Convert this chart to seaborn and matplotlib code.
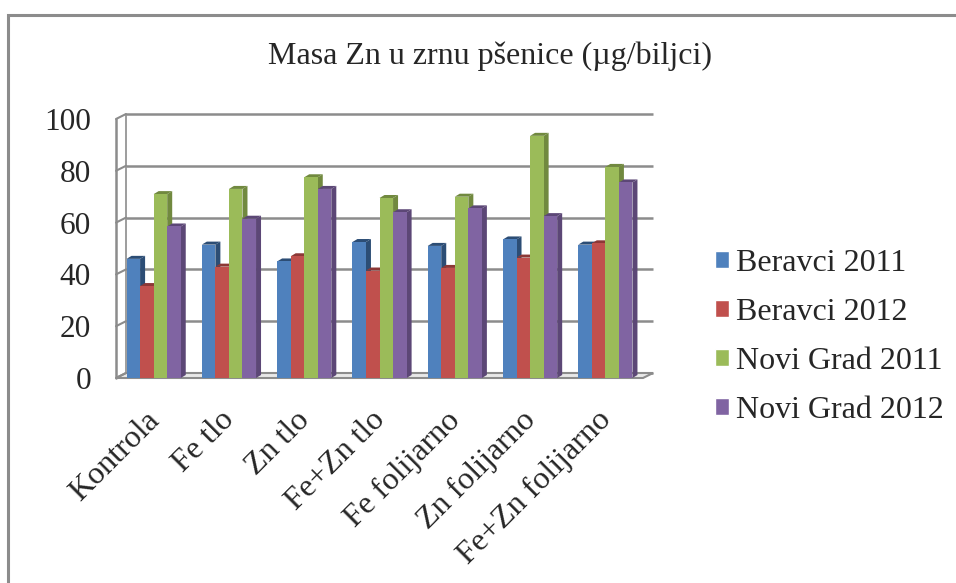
import numpy as np
import pandas as pd
import matplotlib
matplotlib.use("Agg")
import matplotlib.pyplot as plt
import matplotlib.transforms as mtransforms
from matplotlib.patches import Polygon, Rectangle
import seaborn as sns

# data
categories = ['Kontrola', 'Fe tlo', 'Zn tlo', 'Fe+Zn tlo', 'Fe folijarno', 'Zn folijarno', 'Fe+Zn folijarno']
series = ['Beravci 2011', 'Beravci 2012', 'Novi Grad 2011', 'Novi Grad 2012']
beravci_2011 = [46, 51.5, 45, 52.5, 51, 53.5, 51.5]
beravci_2012 = [35.5, 43, 47, 41.5, 42.5, 46.5, 52]
novi_grad_2011 = [71, 73, 77.5, 69.5, 70, 93.5, 81.5]
novi_grad_2012 = [58.5, 61.5, 73, 64, 65.5, 62.5, 75.5]
yticks = [0, 20, 40, 60, 80, 100]

colors = ['#4F81BD', '#C0504D', '#9BBB59', '#8064A2']
dark = ['#2C4D75', '#8C3836', '#71893F', '#5C4776']

df = pd.DataFrame({
    'kategorija': categories * 4,
    'serija': np.repeat(series, len(categories)),
    'vrijednost': beravci_2011 + beravci_2012 + novi_grad_2011 + novi_grad_2012,
})

sns.set_style('white')
plt.rcParams['font.family'] = ['Liberation Serif', 'DejaVu Serif']

W, H, DPI = 956, 583, 100
fig = plt.figure(figsize=(W / DPI, H / DPI), dpi=DPI)
ax_l, ax_r, ax_t, ax_b = 116, 643, 119, 378
ax = fig.add_axes([ax_l / W, 1 - ax_b / H, (ax_r - ax_l) / W, (ax_b - ax_t) / H])

# outer chart frame
fig.patches.append(Rectangle((8 / W, -0.1), 1.0, 1 - 15 / H + 0.1, transform=fig.transFigure,
                             fill=False, edgecolor='#8C8C8C', linewidth=2.2, clip_on=False))

sns.barplot(data=df, x='kategorija', y='vrijednost', hue='serija', palette=colors,
            width=0.72, gap=0, saturation=1, ax=ax, legend=False, errorbar=None, linewidth=0)
ax.set_xlim(-0.5, len(categories) - 0.5)
ax.set_ylim(0, 100)

# 3D look: back wall offset
depth_x, depth_y = 10, 5
off = mtransforms.ScaledTranslation(depth_x / DPI, depth_y / DPI, fig.dpi_scale_trans)
ax.hlines(yticks, -0.5, len(categories) - 0.5, colors='#8C8C8C', linewidth=1.8,
          transform=ax.transData + off, zorder=0, clip_on=False)
px_x = (ax_r - ax_l) / len(categories)
px_y = (ax_b - ax_t) / 100
dxd, dyd = depth_x / px_x, depth_y / px_y
# left wall ticks and floor
for y in yticks:
    ax.plot([-0.5, -0.5 + dxd], [y, y + dyd], color='#8C8C8C', lw=1.5, clip_on=False, zorder=1)
ax.plot([-0.5, -0.5], [0, 100], color='#8C8C8C', lw=1.8, clip_on=False)
ax.plot([-0.5 + dxd, -0.5 + dxd], [dyd, 100 + dyd], color='#8C8C8C', lw=1.2, clip_on=False, zorder=0)
floor = Polygon([[-0.5, 0], [len(categories) - 0.5, 0],
                 [len(categories) - 0.5 + dxd, dyd], [-0.5 + dxd, dyd]],
                closed=True, facecolor='#E8E8E8', edgecolor='#8C8C8C', lw=1.5, clip_on=False, zorder=0.5)
ax.add_patch(floor)

# side and top faces of the bars
sx, sy = 5 / px_x, 3 / px_y
for i, patch in enumerate(ax.patches[:len(categories) * len(series)]):
    s = i // len(categories)
    x0, w, h = patch.get_x(), patch.get_width(), patch.get_height()
    patch.set_zorder(3)
    side = Polygon([[x0 + w, 0], [x0 + w + sx, sy], [x0 + w + sx, h + sy], [x0 + w, h]],
                   closed=True, facecolor=dark[s], edgecolor='none', clip_on=False, zorder=2.9)
    top = Polygon([[x0, h], [x0 + w, h], [x0 + w + sx, h + sy], [x0 + sx, h + sy]],
                  closed=True, facecolor=dark[s], edgecolor='none', clip_on=False, zorder=2.9)
    ax.add_patch(side)
    ax.add_patch(top)

sns.despine(ax=ax, left=True, bottom=True)
ax.set_yticks(yticks)
ax.set_yticklabels([str(v) for v in yticks], fontsize=22.5)
ax.tick_params(axis='y', length=0, pad=18)
ax.tick_params(axis='x', length=0, pad=20)
ax.set_xticks(range(len(categories)))
ax.set_xticklabels(categories, fontsize=23, rotation=45, ha='right', rotation_mode='anchor')
shift = mtransforms.ScaledTranslation(-9 / DPI, 0, fig.dpi_scale_trans)
for lab in ax.get_xticklabels():
    lab.set_transform(lab.get_transform() + shift)
ax.set_xlabel('')
ax.set_ylabel('')
ax.patch.set_alpha(0)

fig.text(490 / W, 1 - 56 / H, 'Masa Zn u zrnu pšenice (µg/biljci)', ha='center', va='center', fontsize=23)

handles = [Rectangle((0, 0), 1, 1, facecolor=c) for c in colors]
fig.legend(handles, series, loc='center left', bbox_to_anchor=(686 / W, 1 - 337 / H),
           frameon=False, fontsize=23, handlelength=0.45, handleheight=0.45,
           handletextpad=0.2, labelspacing=0.62)

fig.savefig('out.png', dpi=DPI)
